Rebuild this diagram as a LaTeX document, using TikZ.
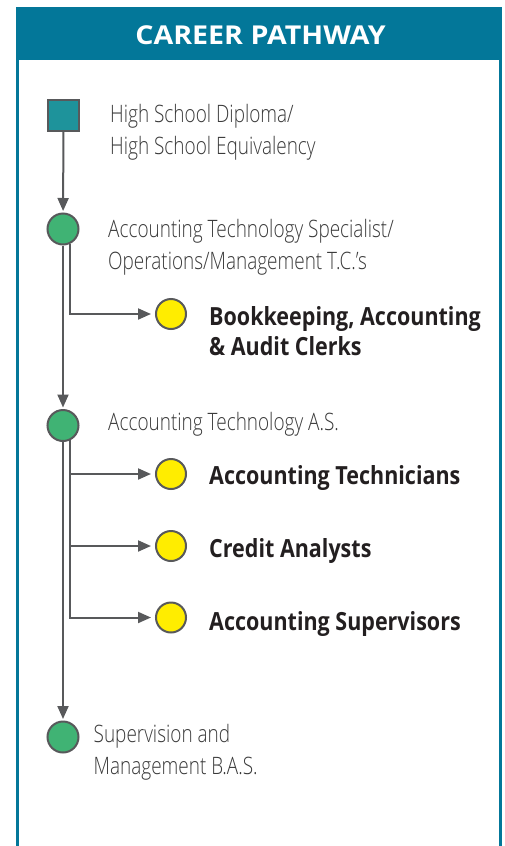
\documentclass[tikz,border=0pt]{standalone}
\usepackage{fontspec}
\usetikzlibrary{arrows.meta}
\setmainfont{Open Sans}
\IfFontExistsTF{Open Sans Light}{%
  \newfontfamily\lightc{Open Sans Light}[FakeStretch=0.79]}{%
  \newfontfamily\lightc{Open Sans}[FakeStretch=0.77]}
\newfontfamily\boldc{Open Sans}[FakeStretch=0.86]
\IfFontExistsTF{Open Sans ExtraBold}{%
  \newfontfamily\titlef{Open Sans ExtraBold}[FakeStretch=1.04]}{%
  \newfontfamily\titlef{Open Sans Bold}[FakeStretch=1.1]}
\definecolor{hdr}{HTML}{037799}
\definecolor{sqfill}{HTML}{1E939B}
\definecolor{grn}{HTML}{40B374}
\definecolor{ylw}{HTML}{FFED00}
\definecolor{lin}{HTML}{58595B}
\definecolor{txt}{HTML}{3A3A3A}
\definecolor{btxt}{HTML}{231F20}
\tikzset{
  green dot/.style={circle, draw=lin, line width=2pt, fill=grn, minimum size=31pt, inner sep=0pt},
  yellow dot/.style={circle, draw=lin, line width=2pt, fill=ylw, minimum size=30pt, inner sep=0pt},
  start box/.style={rectangle, draw=lin, line width=2pt, fill=sqfill, minimum size=31pt, inner sep=0pt},
  conn/.style={draw=lin, line width=2pt, -{Triangle[length=13pt,width=11pt]}},
  vconn/.style={conn, shorten >=1.5pt},
  hconn/.style={conn, shorten >=4pt},
  lighttext/.style={anchor=base west, inner sep=0pt, text=txt, font={\lightc\fontsize{24}{32}\selectfont}, align=left},
  boldtext/.style={anchor=base west, inner sep=0pt, text=btxt, font={\boldc\bfseries\fontsize{25}{30}\selectfont}, align=left},
}
\begin{document}
\begin{tikzpicture}[x=1pt,y=-1pt]
\useasboundingbox (0,0) rectangle (505,846);
% frame
\fill[hdr] (16,7) rectangle (502,60);
\draw[hdr, line width=2.6pt] (17.3,7) -- (17.3,850);
\draw[hdr, line width=3pt] (500.8,7) -- (500.8,850);
\node[text=white, font={\titlef\fontsize{26}{30}\selectfont}] (title) at (260.5,35.5) {CAREER PATHWAY};
% nodes
\node[start box] (sq) at (63.5,115.7) {};
\node[green dot] (g1) at (63,229) {};
\node[green dot] (g2) at (63,425.5) {};
\node[green dot] (g3) at (63,737) {};
\node[yellow dot] (y1) at (171,314) {};
\node[yellow dot] (y2) at (171,474) {};
\node[yellow dot] (y3) at (171,546) {};
\node[yellow dot] (y4) at (171,617.5) {};
% labels (anchor = baseline of last line)
\node[lighttext] (t0) at (110,154.3) {High School Diploma/\\High School Equivalency};
\node[lighttext] (t1) at (108,269) {Accounting Technology Specialist/\\Operations/Management T.C.’s};
\node[lighttext] (t2) at (108,430) {Accounting Technology A.S.};
\node[lighttext] (t3) at (93.5,774.3) {Supervision and\\Management B.A.S.};
\node[boldtext] (b1) at (209,355) {Bookkeeping, Accounting\\\&~Audit Clerks};
\node[boldtext] (b2) at (209,484.3) {Accounting Technicians};
\node[boldtext] (b3) at (209,557.7) {Credit Analysts};
\node[boldtext] (b4) at (209,630) {Accounting Supervisors};
% connectors
\draw[vconn] (sq) -- (g1);
\draw[vconn] (g1) -- (g2);
\draw[vconn] (g2) -- (g3);
\draw[hconn] (g1.-65) |- (y1.west);
\draw[hconn] (g2.-65) |- (y2.west);
\draw[hconn] (g2.-65) |- (y3.west);
\draw[hconn] (g2.-65) |- (y4.west);
\end{tikzpicture}
\end{document}
